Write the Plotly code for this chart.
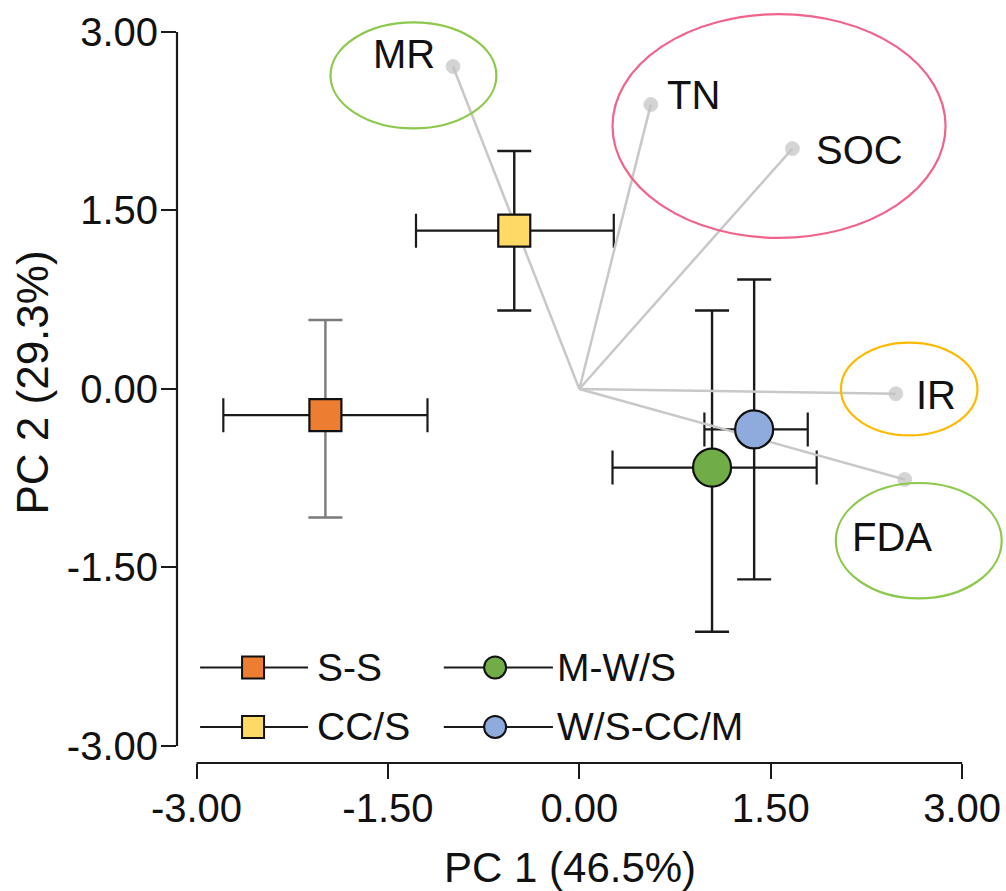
import plotly.graph_objects as go

# ---------------- data ----------------
groups = ["S-S", "M-W/S", "CC/S", "W/S-CC/M"]
pc1 = [-1.99, 1.04, -0.51, 1.37]
pc2 = [-0.22, -0.66, 1.33, -0.34]
pc1_lo = [-2.79, 0.26, -1.28, 0.98]
pc1_hi = [-1.19, 1.86, 0.27, 1.79]
pc2_lo = [-1.08, -2.04, 0.66, -1.60]
pc2_hi = [0.58, 0.66, 2.00, 0.92]
colors = ["#ED7D31", "#70AD47", "#FFD966", "#8FAADC"]
symbols = ["square", "circle", "square", "circle"]
msizes = [32, 38, 32, 38]

variables = ["MR", "TN", "SOC", "IR", "FDA"]
load_x = [-0.99, 0.56, 1.67, 2.48, 2.55]
load_y = [2.71, 2.39, 2.02, -0.04, -0.76]

tick_vals = [-3, -1.5, 0, 1.5, 3]
tick_text = ["-3.00", "-1.50", "0.00", "1.50", "3.00"]

# ---------------- layout constants ----------------
XR = [-3.153, 3.328]
YR = [-3.143, 3.168]
FONT = "Liberation Sans, Arial, sans-serif"
FS = 40

fig = go.Figure()

# error bars (drawn first, beneath vectors)
for i, g in enumerate(groups):
    fig.add_trace(go.Scatter(
        x=[pc1[i]], y=[pc2[i]], mode="markers",
        marker=dict(size=2, opacity=0),
        error_x=dict(type="data", symmetric=False,
                     array=[pc1_hi[i] - pc1[i]], arrayminus=[pc1[i] - pc1_lo[i]],
                     color="#1a1a1a", thickness=2.2, width=17),
        error_y=dict(type="data", symmetric=False,
                     array=[pc2_hi[i] - pc2[i]], arrayminus=[pc2[i] - pc2_lo[i]],
                     color="#7a7a7a" if g == "S-S" else "#1a1a1a", thickness=2.4, width=17),
        showlegend=False, hoverinfo="skip"))

# loading vectors
for v, lx, ly in zip(variables, load_x, load_y):
    fig.add_trace(go.Scatter(
        x=[0, lx], y=[0, ly], mode="lines+markers",
        line=dict(color="#c8c8c8", width=2.5),
        marker=dict(size=[0, 14], color="#c3c3c3"),
        showlegend=False, hoverinfo="skip"))

# group centroids
for i, g in enumerate(groups):
    fig.add_trace(go.Scatter(
        x=[pc1[i]], y=[pc2[i]], mode="lines+markers", name=g,
        line=dict(color="#1a1a1a", width=2),
        marker=dict(size=msizes[i], symbol=symbols[i], color=colors[i],
                    line=dict(color="#111111", width=2.2)),
        showlegend=False))

# manual legend (layout positions)
leg_rows = {"S-S": -2.34, "CC/S": -2.84, "M-W/S": -2.34, "W/S-CC/M": -2.84}
leg_cols = {"S-S": (-2.972, -2.557, -2.126, -2.07), "CC/S": (-2.972, -2.557, -2.126, -2.07),
            "M-W/S": (-1.062, -0.660, -0.207, -0.19), "W/S-CC/M": (-1.062, -0.660, -0.207, -0.19)}
annotations = []
for i, g in enumerate(groups):
    y = leg_rows[g]
    x0, xm, x1, xt = leg_cols[g]
    fig.add_trace(go.Scatter(x=[x0, x1], y=[y, y], mode="lines",
                             line=dict(color="#1a1a1a", width=2),
                             showlegend=False, hoverinfo="skip"))
    fig.add_trace(go.Scatter(x=[xm], y=[y], mode="markers",
                             marker=dict(size=22, symbol=symbols[i], color=colors[i],
                                         line=dict(color="#111111", width=2)),
                             showlegend=False, hoverinfo="skip"))
    annotations.append(dict(x=xt, y=y, xref="x", yref="y", text=g, showarrow=False,
                            xanchor="left", yanchor="middle",
                            font=dict(size=39, color="#111111", family=FONT)))

# variable labels
label_style = {
    "MR": dict(xanchor="right", xshift=-16, yshift=13),
    "TN": dict(xanchor="left", xshift=14, yshift=10),
    "SOC": dict(xanchor="left", xshift=22, yshift=-1),
    "IR": dict(xanchor="left", xshift=18, yshift=-1),
    "FDA": dict(xanchor="center", xshift=-13, yshift=-58),
}
for v, lx, ly in zip(variables, load_x, load_y):
    annotations.append(dict(x=lx, y=ly, xref="x", yref="y", text=v, showarrow=False,
                            yanchor="middle", font=dict(size=FS, color="#111111", family=FONT),
                            **label_style[v]))

# axis titles
annotations.append(dict(x=0.475, y=-0.139, xref="paper", yref="paper", text="PC 1 (46.5%)",
                        showarrow=False, xanchor="center", yanchor="middle",
                        font=dict(size=42, color="#111111", family=FONT)))
annotations.append(dict(x=-0.175, y=0.507, xref="paper", yref="paper", text="PC 2 (29.3%)",
                        showarrow=False, xanchor="center", yanchor="middle", textangle=-90,
                        font=dict(size=44, color="#111111", family=FONT)))

# ellipses + axis lines
shapes = [
    dict(type="circle", xref="x", yref="y", x0=-1.95, x1=-0.65, y0=2.19, y1=3.08,
         line=dict(color="#8CC84B", width=2.2)),
    dict(type="circle", xref="x", yref="y", x0=0.26, x1=2.87, y0=1.27, y1=3.15,
         line=dict(color="#F0648C", width=2.2)),
    dict(type="circle", xref="x", yref="y", x0=2.05, x1=3.12, y0=-0.39, y1=0.39,
         line=dict(color="#FFB900", width=2.2)),
    dict(type="circle", xref="x", yref="y", x0=2.01, x1=3.31, y0=-1.76, y1=-0.79,
         line=dict(color="#8CC84B", width=2.2)),
    dict(type="line", xref="x", yref="y domain", x0=-3, x1=3, y0=0, y1=0,
         line=dict(color="#1a1a1a", width=2.2)),
    dict(type="line", xref="x domain", yref="y", x0=0, x1=0, y0=-3, y1=3,
         line=dict(color="#1a1a1a", width=2.2)),
]

fig.update_layout(
    width=1006, height=891,
    margin=dict(l=177, r=2, t=12, b=128),
    paper_bgcolor="white", plot_bgcolor="white",
    showlegend=False,
    font=dict(family=FONT, size=FS, color="#111111"),
    xaxis=dict(range=XR, showgrid=False, zeroline=False, showline=False,
               tickvals=tick_vals, ticktext=tick_text, ticks="outside",
               ticklen=15, tickwidth=2.2, tickcolor="#1a1a1a", ticklabelstandoff=-5,
               tickfont=dict(size=FS, family=FONT, color="#111111")),
    yaxis=dict(range=YR, showgrid=False, zeroline=False, showline=False,
               tickvals=tick_vals, ticktext=tick_text, ticks="outside",
               ticklen=15, tickwidth=2.2, tickcolor="#1a1a1a", ticklabelstandoff=-5,
               tickfont=dict(size=FS, family=FONT, color="#111111")),
    shapes=shapes,
    annotations=annotations,
)

fig.write_html("out.html", config={"displayModeBar": False},
               post_script="document.body.style.margin='0';document.body.style.overflow='hidden';")
